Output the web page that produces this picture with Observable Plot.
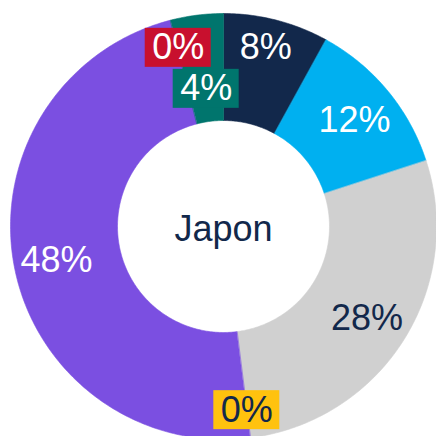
<!DOCTYPE html>
<html><head><meta charset="utf-8">
<script src="https://cdn.jsdelivr.net/npm/d3@7"></script>
<script src="https://cdn.jsdelivr.net/npm/@observablehq/plot@0.6"></script>
<style>body{margin:0;background:#fff;} #chart svg{display:block;}</style>
</head><body><div id="chart"></div>
<script>
// data
const categories = ["A","B","C","D","E","F","G"];
const values = [8, 12, 28, 0, 48, 0, 4];
const labels = ["8%","12%","28%","0%","48%","0%","4%"];
const centerLabel = "Japon";
// styles / layout
const colors = ["#12284B","#00B0F0","#D0D0D0","#FFC20E","#7B4FE1","#C8102E","#00756D"];
const textColors = ["#fff","#fff","#12284B","#12284B","#fff","#fff","#fff"];
const boxed = [false,false,false,true,false,true,true];
const nudge = [[0,14],[0,-2],[0,-1],[2,-15],[0,-2],[-3,14],[4,-31]];

const R = 213, r0 = 106, RL = 170;
const total = d3.sum(values);
let acc = 0;
const slices = values.map((v,i) => {
  const a0 = acc/total*2*Math.PI; acc += v; const a1 = acc/total*2*Math.PI;
  return {i, a0, a1, mid:(a0+a1)/2};
});
const pts = [];
for (const s of slices) {
  if (s.a1 - s.a0 <= 0) continue;
  const n = Math.max(2, Math.ceil((s.a1-s.a0)*80));
  for (let k=0;k<=n;k++){const a=s.a0+(s.a1-s.a0)*k/n; pts.push({s:s.i,x:R*Math.sin(a),y:R*Math.cos(a)});}
  for (let k=n;k>=0;k--){const a=s.a0+(s.a1-s.a0)*k/n; pts.push({s:s.i,x:r0*Math.sin(a),y:r0*Math.cos(a)});}
}
const lab = slices.map(s => ({i:s.i, text:labels[s.i],
  x: RL*Math.sin(s.mid)+nudge[s.i][0], y: RL*Math.cos(s.mid)+nudge[s.i][1]}));
const boxes = lab.filter(d => boxed[d.i]);
const font = "Liberation Sans, Arial, sans-serif";

const plot = Plot.plot({
  width: 436, height: 436, margin: 0,
  x: {domain:[-223,213], axis:null},
  y: {domain:[-210,226], axis:null},
  marks: [
    Plot.line(pts, {x:"x", y:"y", z:"s", fill:d=>colors[d.s], stroke:d=>colors[d.s], strokeWidth:0.6, curve:"linear-closed"}),
    Plot.rect(boxes, {x1:d=>d.x-33, x2:d=>d.x+33, y1:d=>d.y-19.5, y2:d=>d.y+19.5, fill:d=>colors[d.i]}),
    Plot.text(lab, {x:"x", y:"y", text:"text", fill:d=>textColors[d.i], fontSize:36, fontFamily:font}),
    Plot.text([centerLabel], {x:0, y:-3, text:d=>d, fill:"#12284B", fontSize:36, fontFamily:font})
  ]
});
document.getElementById("chart").appendChild(plot);
</script></body></html>
